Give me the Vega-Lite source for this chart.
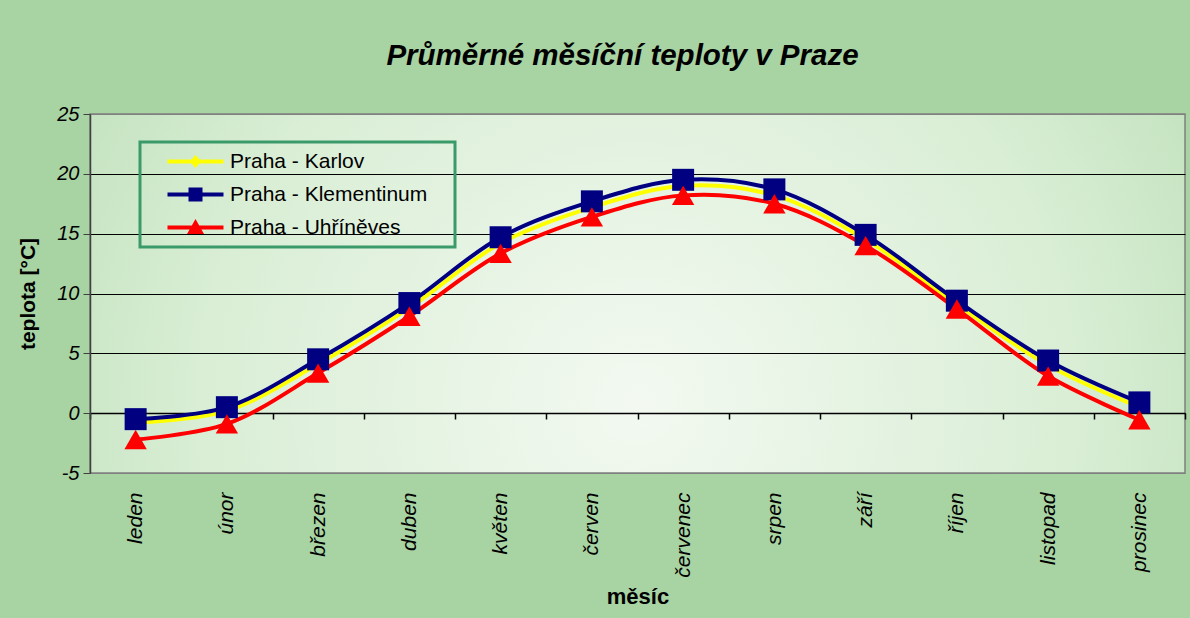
{
  "$schema": "https://vega.github.io/schema/vega-lite/v6.json",
  "autosize": {"type": "none"},
  "width": 1095,
  "height": 359,
  "padding": {"left": 90, "top": 114, "right": 5, "bottom": 145},
  "background": "#a8d3a3",
  "title": {
    "text": "Průměrné měsíční teploty v Praze",
    "font": "Liberation Sans",
    "fontSize": 29.5,
    "fontWeight": "bold",
    "fontStyle": "italic",
    "color": "black",
    "anchor": "middle",
    "dx": -15,
    "offset": 33
  },
  "config": {
    "view": {
      "stroke": "#808080",
      "strokeWidth": 1.5,
      "fill": {
        "gradient": "radial",
        "x1": 0.5, "y1": 0.6, "r1": 0,
        "x2": 0.5, "y2": 0.6, "r2": 0.8,
        "stops": [
          {"offset": 0, "color": "#f3f9f1"},
          {"offset": 0.5, "color": "#d9eed5"},
          {"offset": 1, "color": "#a9d4a4"}
        ]
      }
    },
    "font": "Liberation Sans"
  },
  "data": {
    "values": [
      {"m": "leden", "s": "Praha - Karlov", "t": -0.8},
      {"m": "únor", "s": "Praha - Karlov", "t": 0.2},
      {"m": "březen", "s": "Praha - Karlov", "t": 4.1},
      {"m": "duben", "s": "Praha - Karlov", "t": 8.8},
      {"m": "květen", "s": "Praha - Karlov", "t": 14.2},
      {"m": "červen", "s": "Praha - Karlov", "t": 17.2},
      {"m": "červenec", "s": "Praha - Karlov", "t": 19.0},
      {"m": "srpen", "s": "Praha - Karlov", "t": 18.2},
      {"m": "září", "s": "Praha - Karlov", "t": 14.5},
      {"m": "říjen", "s": "Praha - Karlov", "t": 9.1},
      {"m": "listopad", "s": "Praha - Karlov", "t": 4.0},
      {"m": "prosinec", "s": "Praha - Karlov", "t": 0.5},
      {"m": "leden", "s": "Praha - Klementinum", "t": -0.5},
      {"m": "únor", "s": "Praha - Klementinum", "t": 0.5},
      {"m": "březen", "s": "Praha - Klementinum", "t": 4.5},
      {"m": "duben", "s": "Praha - Klementinum", "t": 9.2},
      {"m": "květen", "s": "Praha - Klementinum", "t": 14.7},
      {"m": "červen", "s": "Praha - Klementinum", "t": 17.7},
      {"m": "červenec", "s": "Praha - Klementinum", "t": 19.5},
      {"m": "srpen", "s": "Praha - Klementinum", "t": 18.7},
      {"m": "září", "s": "Praha - Klementinum", "t": 14.9},
      {"m": "říjen", "s": "Praha - Klementinum", "t": 9.4},
      {"m": "listopad", "s": "Praha - Klementinum", "t": 4.4},
      {"m": "prosinec", "s": "Praha - Klementinum", "t": 0.9},
      {"m": "leden", "s": "Praha - Uhříněves", "t": -2.2},
      {"m": "únor", "s": "Praha - Uhříněves", "t": -0.9},
      {"m": "březen", "s": "Praha - Uhříněves", "t": 3.35},
      {"m": "duben", "s": "Praha - Uhříněves", "t": 8.1},
      {"m": "květen", "s": "Praha - Uhříněves", "t": 13.35},
      {"m": "červen", "s": "Praha - Uhříněves", "t": 16.4},
      {"m": "červenec", "s": "Praha - Uhříněves", "t": 18.2},
      {"m": "srpen", "s": "Praha - Uhříněves", "t": 17.5},
      {"m": "září", "s": "Praha - Uhříněves", "t": 14.0},
      {"m": "říjen", "s": "Praha - Uhříněves", "t": 8.7},
      {"m": "listopad", "s": "Praha - Uhříněves", "t": 3.1},
      {"m": "prosinec", "s": "Praha - Uhříněves", "t": -0.55}
    ]
  },
  "encoding": {
    "x": {
      "field": "m",
      "type": "nominal",
      "sort": ["leden", "únor", "březen", "duben", "květen", "červen", "červenec", "srpen", "září", "říjen", "listopad", "prosinec"],
      "scale": {"paddingInner": 0, "paddingOuter": 0},
      "axis": {
        "title": "měsíc",
        "titleFont": "Liberation Sans",
        "titleFontSize": 22,
        "titleFontWeight": "bold",
        "titleColor": "black",
        "titleY": 190,
        "titleBaseline": "alphabetic",
        "offset": -60,
        "domainColor": "black",
        "domainWidth": 1.5,
        "tickColor": "black",
        "tickWidth": 1.5,
        "tickSize": 6,
        "tickBand": "extent",
        "labelAngle": 270,
        "labelFont": "Liberation Sans",
        "labelFontSize": 21,
        "labelFontStyle": "italic",
        "labelColor": "black",
        "labelPadding": 73,
        "grid": false
      }
    },
    "y": {
      "field": "t",
      "type": "quantitative",
      "scale": {"domain": [-5, 25], "nice": false, "zero": false},
      "axis": {
        "title": "teplota [°C]",
        "titleFont": "Liberation Sans",
        "titleFontSize": 21,
        "titleFontWeight": "bold",
        "titleColor": "black",
        "titlePadding": 18,
        "values": [-5, 0, 5, 10, 15, 20, 25],
        "labelExpr": "'' + datum.value",
        "domainColor": "#404040",
        "domainWidth": 1.5,
        "tickColor": "#404040",
        "tickSize": 7,
        "labelFont": "Liberation Sans",
        "labelFontSize": 20,
        "labelFontStyle": "italic",
        "labelColor": "black",
        "labelPadding": 4,
        "grid": true,
        "gridColor": {"condition": {"test": "datum.value == 25 || datum.value == -5", "value": "#808080"}, "value": "black"},
        "gridWidth": 1
      }
    }
  },
  "layer": [
    {
      "mark": {"type": "line", "interpolate": "catmull-rom", "strokeWidth": 4},
      "encoding": {
        "color": {
          "field": "s",
          "type": "nominal",
          "scale": {
            "domain": ["Praha - Karlov", "Praha - Klementinum", "Praha - Uhříněves"],
            "range": ["#ffff00", "#000080", "#ff0000"]
          },
          "legend": {
            "title": "\u00a0",
            "titleOrient": "right",
            "titleFontSize": 21,
            "titlePadding": 19,
            "orient": "none",
            "legendX": 50,
            "legendY": 28,
            "padding": 9,
            "strokeColor": "#3a9a6a",
            "labelFont": "Liberation Sans",
            "labelFontSize": 21,
            "labelColor": "black",
            "labelLimit": 0,
            "symbolOffset": 36,
            "labelOffset": 24,
            "rowPadding": 11,
            "symbolSize": 400,
            "symbolStrokeWidth": 0,
            "encode": {
              "legend": {"update": {"strokeWidth": {"value": 3}}},
              "symbols": {
                "update": {
                  "shape": {"signal": "datum.value == 'Praha - Karlov' ? 'M-2.8,-0.2H2.8V0.2H-2.8Z M0,-0.65L0.55,0L0,0.65L-0.55,0Z' : datum.value == 'Praha - Klementinum' ? 'M-2.8,-0.2H2.8V0.2H-2.8Z M-0.7,-0.7H0.7V0.7H-0.7Z' : 'M-2.8,-0.2H2.8V0.2H-2.8Z M0,-0.85L0.85,0.65H-0.85Z'"},
                  "fill": {"scale": "color", "field": "value"},
                  "stroke": {"value": "transparent"},
                  "strokeWidth": {"value": 0},
                  "opacity": {"value": 1}
                }
              }
            }
          }
        }
      }
    },
    {
      "transform": [{"filter": "datum.s == 'Praha - Karlov'"}],
      "mark": {"type": "point", "shape": "diamond", "filled": true, "size": 150, "color": "#ffff00", "opacity": 1}
    },
    {
      "transform": [{"filter": "datum.s == 'Praha - Klementinum'"}],
      "mark": {"type": "point", "shape": "square", "filled": true, "size": 484, "color": "#000080", "opacity": 1}
    },
    {
      "transform": [{"filter": "datum.s == 'Praha - Uhříněves'"}],
      "mark": {"type": "point", "shape": "triangle-up", "filled": true, "size": 500, "color": "#ff0000", "opacity": 1}
    }
  ]
}
